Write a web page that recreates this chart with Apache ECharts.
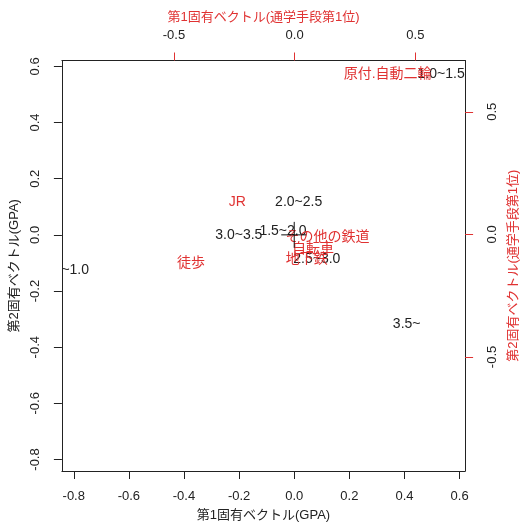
<!DOCTYPE html>
<html>
<head>
<meta charset="utf-8">
<script src="https://cdn.jsdelivr.net/npm/echarts@6/dist/echarts.min.js"></script>
<style>
  html, body { margin: 0; padding: 0; background: #fff; }
  #chart { width: 528px; height: 527px; }
</style>
</head>
<body>
<div id="chart"></div>
<script>
// GPA区分（第1・第2固有ベクトル）
const gpaLabels = ['1.0~1.5', '0.5~1.0', '1.5~2.0', '2.0~2.5', '2.5~3.0', '3.0~3.5', '3.5~']
const gpaX = [0.533, -0.83, -0.041, 0.016, 0.082, -0.201, 0.408]
const gpaY = [0.571, -0.125, 0.013, 0.118, -0.088, -0.002, -0.319]
// 通学手段第1位
const modeLabels = ['原付.自動二輪', 'JR', '徒歩', 'その他の鉄道', '自転車', '地下鉄']
const modeX = [0.385, -0.237, -0.429, 0.136, 0.076, 0.05]
const modeY = [0.653, 0.132, -0.118, -0.013, -0.061, -0.101]
// 目盛
const gpaTicksX = [-0.8, -0.6, -0.4, -0.2, 0.0, 0.2, 0.4, 0.6]
const gpaTicksY = [-0.8, -0.6, -0.4, -0.2, 0.0, 0.2, 0.4, 0.6]
const modeTicks = [-0.5, 0.0, 0.5]

const RED = '#e03232'
const FONT = '"Liberation Sans", Arial, "Noto Sans CJK JP", sans-serif'

const chart = echarts.init(document.getElementById('chart'))

const axisBase = (color, ticks, rotate, margin) => ({
  type: 'value',
  axisLine: { show: true, onZero: false, lineStyle: { color: '#222', width: 1 } },
  axisTick: { show: true, inside: false, length: 8, customValues: ticks, lineStyle: { color: color } },
  axisLabel: {
    customValues: ticks, color: '#222', fontSize: 13, fontFamily: FONT, rotate: rotate, margin: margin,
    formatter: v => v.toFixed(1)
  },
  splitLine: { show: false },
  nameLocation: 'middle',
  nameTextStyle: { fontSize: 13, fontFamily: FONT, color: color }
})

const textSeries = (labels, xs, ys, color, axisIdx) => ({
  type: 'custom',
  xAxisIndex: axisIdx,
  yAxisIndex: axisIdx,
  clip: true,
  silent: true,
  data: xs.map((x, i) => [x, ys[i]]),
  renderItem: (params, api) => {
    const p = api.coord([api.value(0), api.value(1)])
    return {
      type: 'text',
      x: p[0],
      y: p[1],
      style: {
        text: labels[params.dataIndex],
        fill: color,
        font: '14px ' + FONT,
        align: 'center',
        verticalAlign: 'middle'
      }
    }
  }
})

const option = {
  backgroundColor: '#fff',
  animation: false,
  grid: { left: 59.5, right: 52, top: 60.5, bottom: 52, containLabel: false },
  xAxis: [
    Object.assign(axisBase('#222', gpaTicksX, 0, 19), {
      position: 'bottom', min: -0.843, max: 0.62,
      name: '第1固有ベクトル(GPA)', nameGap: 38
    }),
    Object.assign(axisBase(RED, modeTicks, 0, 18.5), {
      position: 'top', min: -0.964, max: 0.706,
      name: '第1固有ベクトル(通学手段第1位)', nameGap: 35
    })
  ],
  yAxis: [
    Object.assign(axisBase('#222', gpaTicksY, 90, 20), {
      position: 'left', min: -0.841, max: 0.621,
      name: '第2固有ベクトル(GPA)', nameGap: 36, nameRotate: 90
    }),
    Object.assign(axisBase(RED, modeTicks, 90, 21), {
      position: 'right', min: -0.965, max: 0.709,
      name: '第2固有ベクトル(通学手段第1位)', nameGap: 37, nameRotate: 90
    })
  ],
  series: [
    textSeries(gpaLabels, gpaX, gpaY, '#222', 0),
    textSeries(modeLabels, modeX, modeY, RED, 1),
    {
      // 原点の十字
      type: 'custom',
      xAxisIndex: 0,
      yAxisIndex: 0,
      silent: true,
      data: [[0, 0]],
      renderItem: (params, api) => {
        const p = api.coord([api.value(0), api.value(1)])
        return {
          type: 'group',
          children: [
            { type: 'line', shape: { x1: p[0], y1: p[1] - 13, x2: p[0], y2: p[1] + 13 }, style: { stroke: '#111', lineWidth: 1 } },
            { type: 'line', shape: { x1: p[0] - 13, y1: p[1], x2: p[0] + 12, y2: p[1] }, style: { stroke: '#111', lineWidth: 1 } }
          ]
        }
      }
    }
  ]
}

chart.setOption(option)
</script>
</body>
</html>
